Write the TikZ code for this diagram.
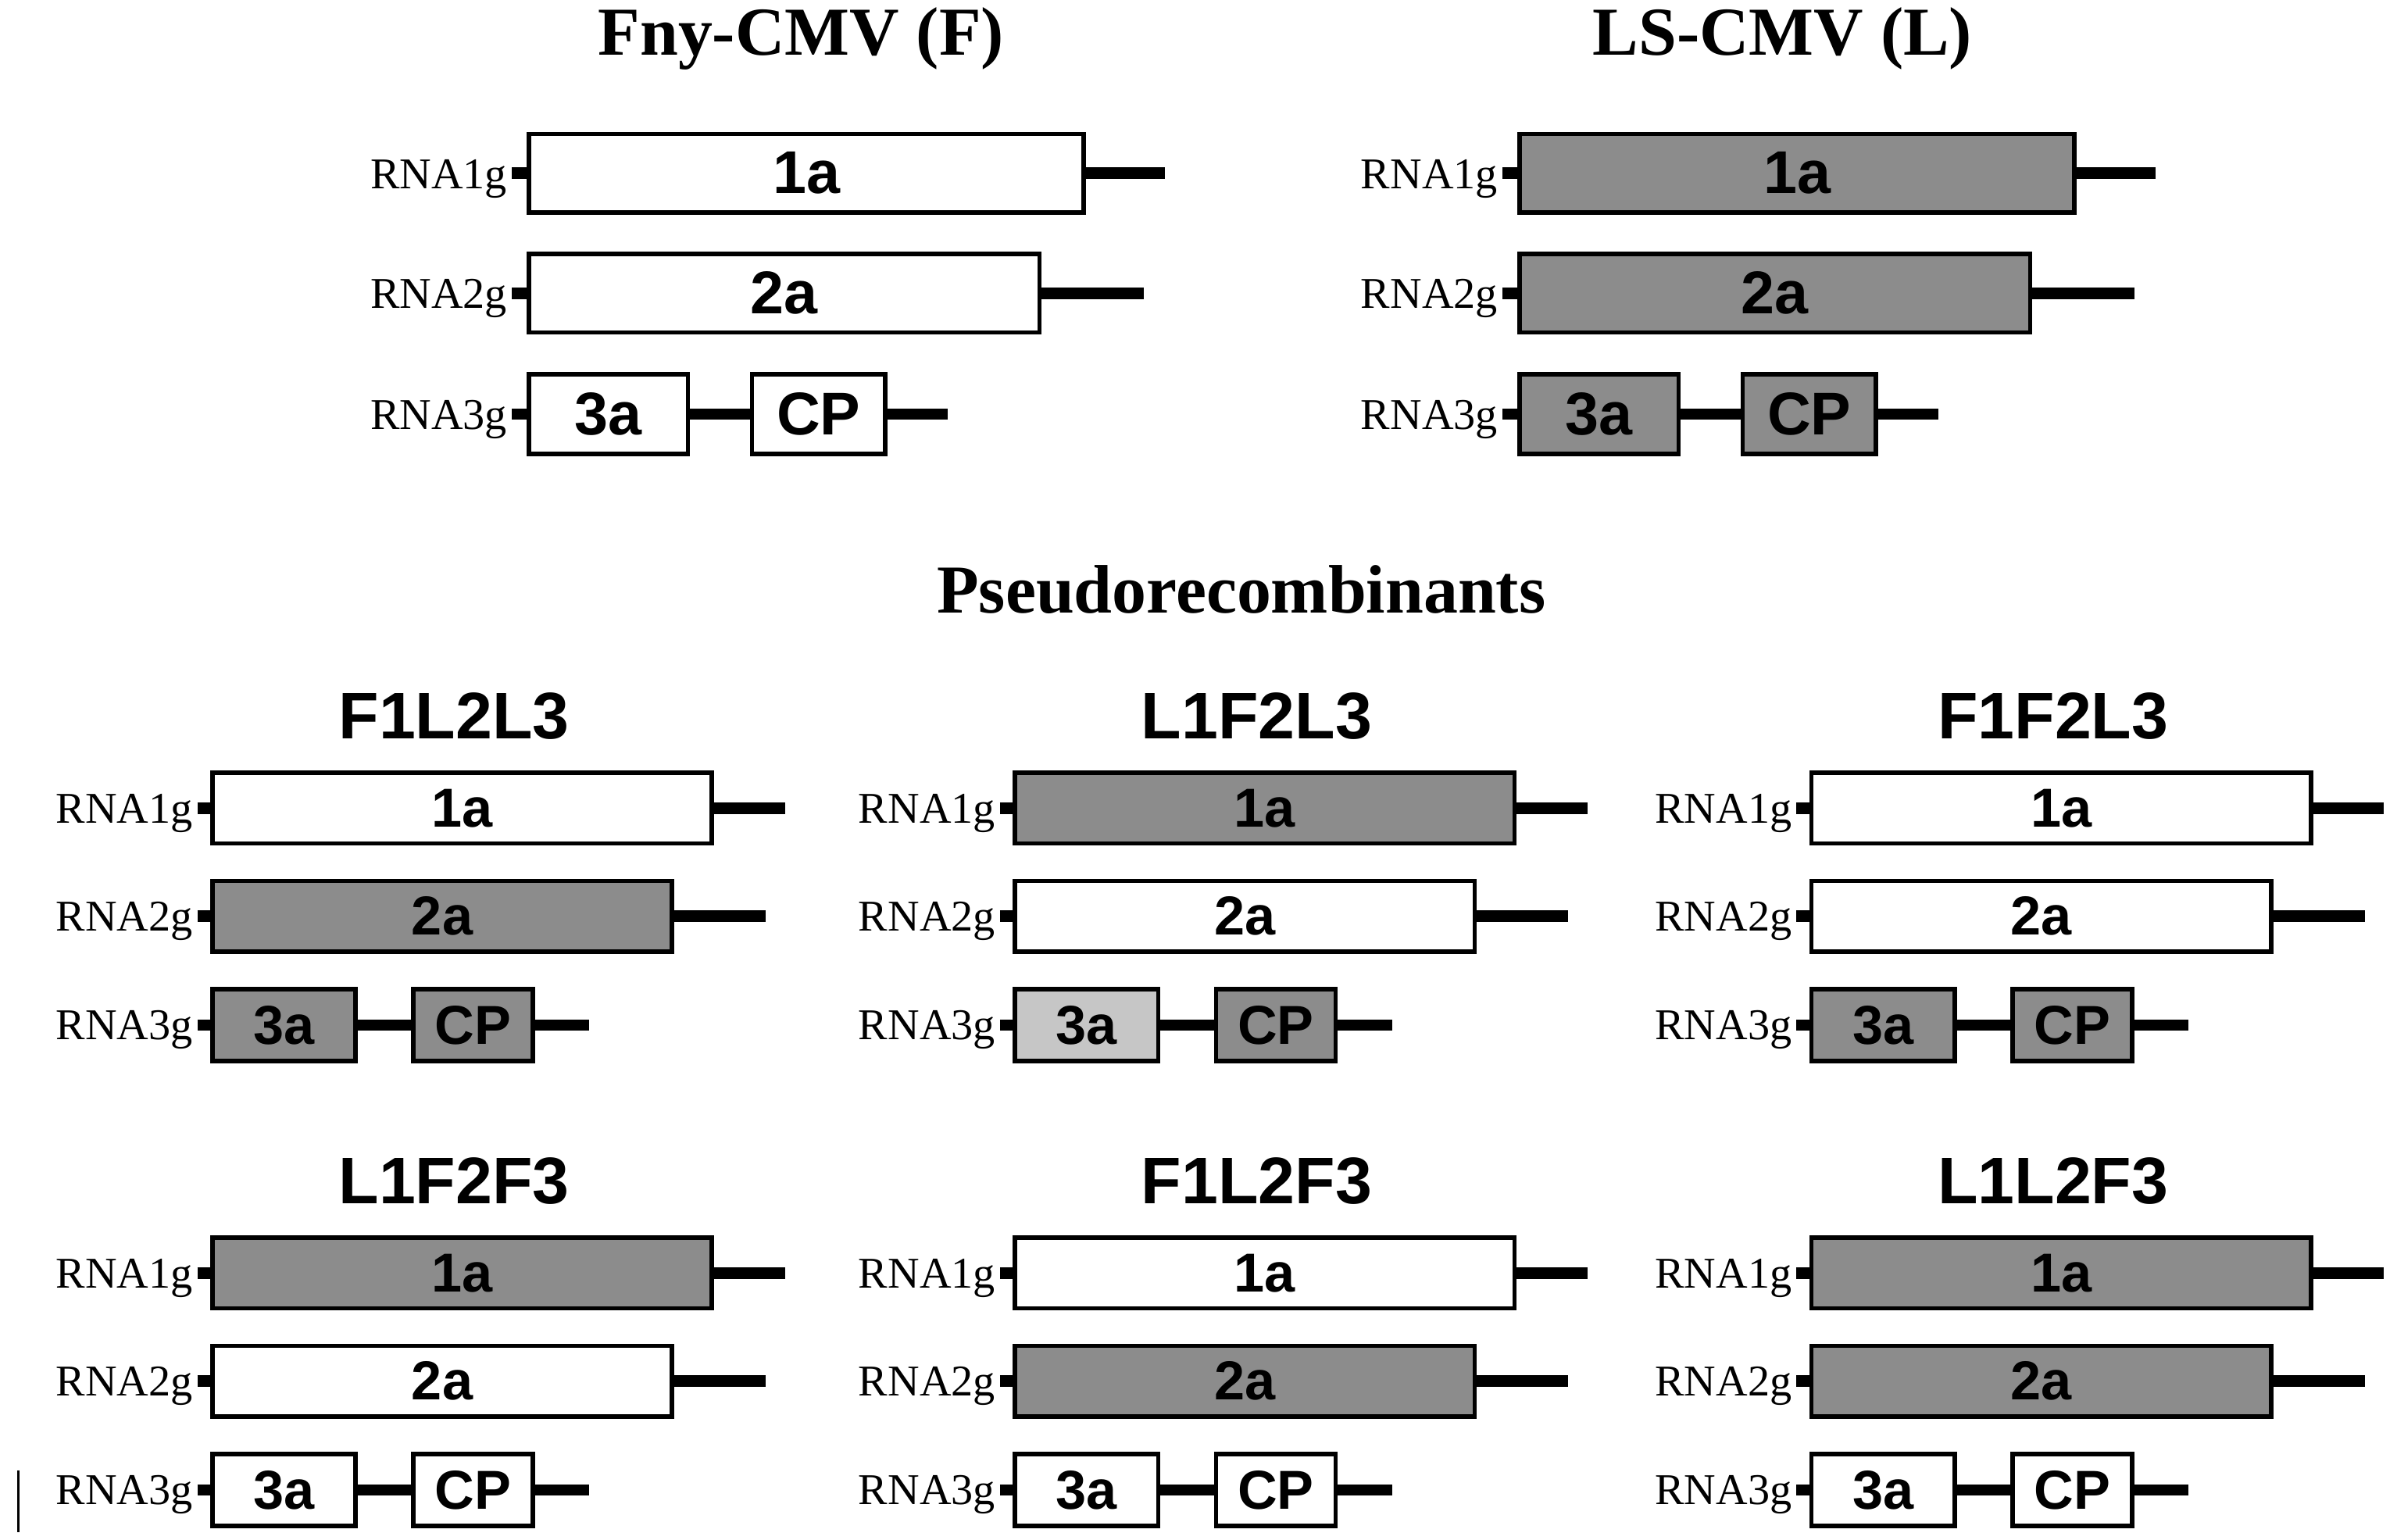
\documentclass[tikz,border=0pt]{standalone}
\usepackage{fontspec}
\setmainfont{Liberation Serif}
\newfontfamily\sansf{Liberation Sans}
\definecolor{dg}{HTML}{8C8C8C}
\definecolor{lg}{HTML}{C6C6C6}
\tikzset{
  box/.style={draw=black,line width=1.6pt},
  seg/.style={line width=4.2pt,line cap=butt},
  rlab/.style={anchor=east,inner sep=0pt,font=\fontsize{16}{16}\selectfont},
  blab/.style={inner sep=0pt,font=\sansf\bfseries\fontsize{#1}{#1}\selectfont},
  ttl/.style={inner sep=0pt,font=\bfseries\fontsize{25}{25}\selectfont},
  stl/.style={inner sep=0pt,font=\sansf\bfseries\fontsize{24}{24}\selectfont}
}
% #1 prefix #2 x #3 y #4 scale #5 fill1 #6 fill2 #7 fill3a #8 fillcp #9 box font size
\newcommand{\genomeset}[9]{%
\begin{scope}[shift={(#2,#3)},scale=#4]
  \foreach \r/\yy in {1/25.5,2/103.5,3/182}{\draw[seg] (-11,\yy) -- (0,\yy);}
  \draw[seg] (0,25.5) -- (416,25.5);
  \draw[seg] (0,103.5) -- (402,103.5);
  \draw[seg] (0,182) -- (274,182);
  \draw[box,fill=#5] (0,0) rectangle (363,51);
  \draw[box,fill=#6] (0,78) rectangle (334,129);
  \draw[box,fill=#7] (0,156) rectangle (104,208);
  \draw[box,fill=#8] (146,156) rectangle (233,208);
  \node[blab=#9] (#1a1) at (181.5,25.5) {1a};
  \node[blab=#9] (#1a2) at (167,103.5) {2a};
  \node[blab=#9] (#1a3) at (52,182) {3a};
  \node[blab=#9] (#1cp) at (189.5,182) {CP};
  \node[rlab] (#1r1) at (-14,29) {RNA1g};
  \node[rlab] (#1r2) at (-14,107) {RNA2g};
  \node[rlab] (#1r3) at (-14,185.5) {RNA3g};
\end{scope}}
\begin{document}
\begin{tikzpicture}[x=0.01957cm,y=-0.01972cm]
\useasboundingbox (0,0) rectangle (1568,1000);
\fill[white] (0,0) rectangle (1568,1000);
\node[ttl] (tf) at (524,25) {Fny-CMV (F)};
\node[ttl] (tl) at (1166,25) {LS-CMV (L)};
\genomeset{F}{346}{87}{1}{white}{white}{white}{white}{22}
\genomeset{L}{994}{87}{1}{dg}{dg}{dg}{dg}{22}
\node[ttl] (ps) at (812,383) {Pseudorecombinants};
\node[stl] (t1) at (297,465) {F1L2L3};
\node[stl] (t2) at (822,465) {L1F2L3};
\node[stl] (t3) at (1343,465) {F1F2L3};
\node[stl] (t4) at (297,767) {L1F2F3};
\node[stl] (t5) at (822,767) {F1L2F3};
\node[stl] (t6) at (1343,767) {L1L2F3};
\genomeset{A}{139}{502}{0.9}{white}{dg}{dg}{dg}{20}
\genomeset{B}{664}{502}{0.9}{dg}{white}{lg}{dg}{20}
\genomeset{C}{1185}{502}{0.9}{white}{white}{dg}{dg}{20}
\genomeset{D}{139}{804}{0.9}{dg}{white}{white}{white}{20}
\genomeset{E}{664}{804}{0.9}{white}{dg}{white}{white}{20}
\genomeset{G}{1185}{804}{0.9}{dg}{dg}{white}{white}{20}
\draw[line width=1pt] (12,955) -- (12,995);
\end{tikzpicture}
\end{document}
